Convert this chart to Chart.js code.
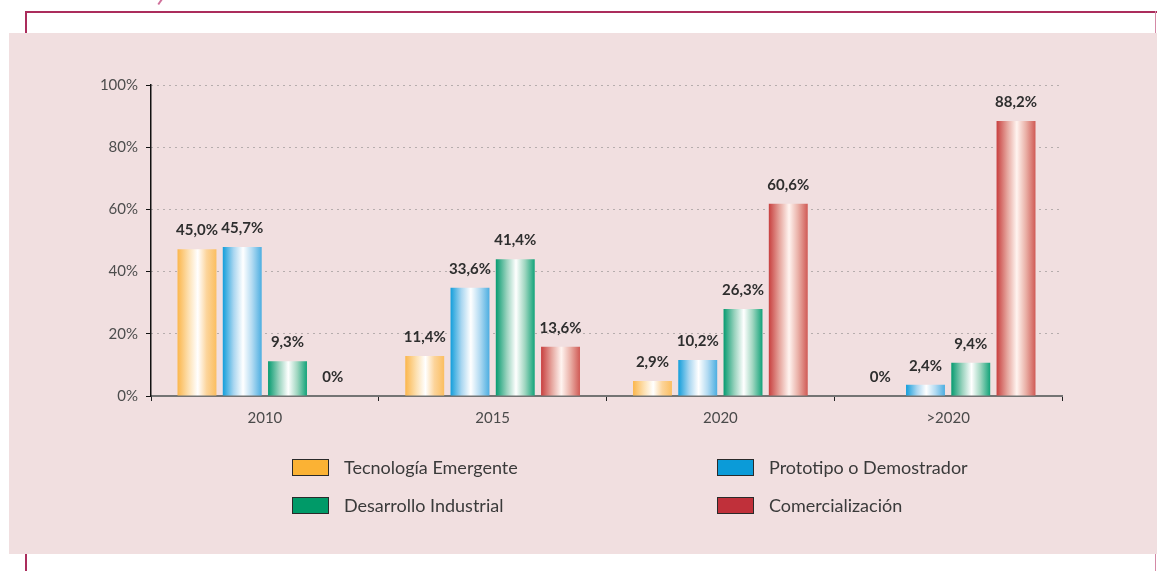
<!DOCTYPE html>
<html>
<head>
<meta charset="utf-8">
<script src="https://cdn.jsdelivr.net/npm/chart.js@4.4.0/dist/chart.umd.min.js"></script>
<style>
html,body{margin:0;padding:0;background:#fff;width:1157px;height:571px;overflow:hidden;position:relative;font-family:Lato,"Open Sans",sans-serif}
#frameTop{position:absolute;left:25px;top:11px;width:1132px;height:2px;background:#ab2d5c}
#frameLeft{position:absolute;left:25px;top:11px;width:2px;height:560px;background:#ab2d5c}
#frameRight{position:absolute;left:1155px;top:11px;width:1px;height:560px;background:#d48aa6}
#mark{position:absolute;left:159px;top:-1px;width:2px;height:6px;background:#d0709a;transform:rotate(35deg)}
#panel{position:absolute;left:9px;top:33px;width:1148px;height:521px;background:#f1dfe0}
#chart{position:absolute;left:0;top:0}
.leg{position:absolute;display:flex;align-items:center;height:18px}
.leg .box{width:35px;height:15px;border:1.5px solid #2a2a2a;box-sizing:content-box}
.leg .txt{margin-left:15px;font-size:18px;color:#3a3a3a;white-space:nowrap}
</style>
</head>
<body>
<div id="frameTop"></div>
<div id="frameLeft"></div>
<div id="frameRight"></div>
<div id="mark"></div>
<div id="panel"></div>
<canvas id="chart" width="1157" height="571"></canvas>
<div id="legend"></div>
<script>
// ---- data ----
const categories = ['2010', '2015', '2020', '>2020'];
const seriesNames = ['Tecnología Emergente', 'Prototipo o Demostrador', 'Desarrollo Industrial', 'Comercialización'];
// bar heights as drawn in the picture (% of axis)
const tecnologiaEmergente = [47.2, 12.9, 4.8, 0];
const prototipoDemostrador = [47.9, 34.8, 11.6, 3.6];
const desarrolloIndustrial = [11.2, 44.0, 28.0, 10.7];
const comercializacion = [0, 15.8, 61.8, 88.4];
// value labels printed above the bars
const labelsTE = ['45,0%', '11,4%', '2,9%', '0%'];
const labelsPD = ['45,7%', '33,6%', '10,2%', '2,4%'];
const labelsDI = ['9,3%', '41,4%', '26,3%', '9,4%'];
const labelsCO = ['0%', '13,6%', '60,6%', '88,2%'];
const yTicks = [0, 20, 40, 60, 80, 100];

// ---- styles ----
const legendColors = ['#fbb234', '#0b9bd8', '#009a68', '#c0303a'];
const gradStops = [
  ['#fbb64c', '#fde0b0', '#ffffff', '#fcd49a', '#fbbe60'],
  ['#139edb', '#a9d6f0', '#ffffff', '#b3dbf2', '#4caee1'],
  ['#069b70', '#98d2bd', '#ffffff', '#9fd6c0', '#12a379'],
  ['#c8403f', '#e6a79f', '#fff4f0', '#eab1a8', '#d05a55']
];

const allValues = [tecnologiaEmergente, prototipoDemostrador, desarrolloIndustrial, comercializacion];
const allLabels = [labelsTE, labelsPD, labelsDI, labelsCO];

const gradientPlugin = {
  id: 'gradBars',
  beforeDatasetsDraw(chart) {
    const ctx = chart.ctx;
    chart.data.datasets.forEach((ds, di) => {
      const meta = chart.getDatasetMeta(di);
      meta.data.forEach(el => {
        const p = el.getProps(['x', 'width'], true);
        const g = ctx.createLinearGradient(p.x - p.width / 2, 0, p.x + p.width / 2, 0);
        const s = gradStops[di];
        g.addColorStop(0, s[0]);
        g.addColorStop(0.28, s[1]);
        g.addColorStop(0.52, s[2]);
        g.addColorStop(0.75, s[3]);
        g.addColorStop(1, s[4]);
        el.options = Object.assign({}, el.options, { backgroundColor: g });
      });
    });
  },
  afterDatasetsDraw(chart) {
    const ctx = chart.ctx;
    ctx.save();
    ctx.font = 'bold 15px Lato, "Open Sans", sans-serif';
    ctx.fillStyle = '#2e2e2e';
    ctx.textAlign = 'center';
    ctx.textBaseline = 'middle';
    chart.data.datasets.forEach((ds, di) => {
      const meta = chart.getDatasetMeta(di);
      meta.data.forEach((el, i) => {
        const p = el.getProps(['x', 'y'], true);
        ctx.fillText(allLabels[di][i], p.x, p.y - 19);
      });
    });
    ctx.restore();
  }
};

new Chart(document.getElementById('chart'), {
  type: 'bar',
  data: {
    labels: categories,
    datasets: seriesNames.map((n, i) => ({
      label: n,
      data: allValues[i],
      backgroundColor: legendColors[i],
      borderWidth: 0,
      categoryPercentage: 0.795,
      barPercentage: 0.86
    }))
  },
  options: {
    responsive: false,
    animation: false,
    devicePixelRatio: 1,
    layout: { padding: { left: 0, top: 85, right: 95, bottom: 135 } },
    plugins: { legend: { display: false }, tooltip: { enabled: false } },
    scales: {
      x: {
        afterFit: s => { s.height = 40; },
        grid: { drawOnChartArea: false, drawTicks: true, tickLength: 5, tickColor: '#222', tickWidth: 1, offset: true },
        border: { color: '#747474', width: 2 },
        ticks: { color: '#4a4a4a', font: { family: 'Lato', size: 15 }, padding: 8 }
      },
      y: {
        min: 0, max: 100,
        afterFit: s => { s.width = 151; },
        afterBuildTicks: s => { s.ticks = yTicks.map(v => ({ value: v })); },
        grid: { color: '#7a7a7a', lineWidth: 1, drawTicks: true, tickLength: 5, tickColor: '#111', tickWidth: 1 },
        border: { color: '#111', width: 1.5, dash: [1, 5] },
        ticks: { color: '#4d4d4d', font: { family: 'Lato', size: 15 }, padding: 8, callback: v => v + '%' }
      }
    }
  },
  plugins: [gradientPlugin]
});

// HTML legend from the series names
const legendSlots = [[292, 458], [717, 458], [292, 496], [717, 496]];
const legendEl = document.getElementById('legend');
seriesNames.forEach((n, i) => {
  const d = document.createElement('div');
  d.className = 'leg';
  d.style.left = legendSlots[i][0] + 'px';
  d.style.top = legendSlots[i][1] + 'px';
  d.innerHTML = '<div class="box" style="background:' + legendColors[i] + '"></div><div class="txt">' + n + '</div>';
  legendEl.appendChild(d);
});
</script>
</body>
</html>
